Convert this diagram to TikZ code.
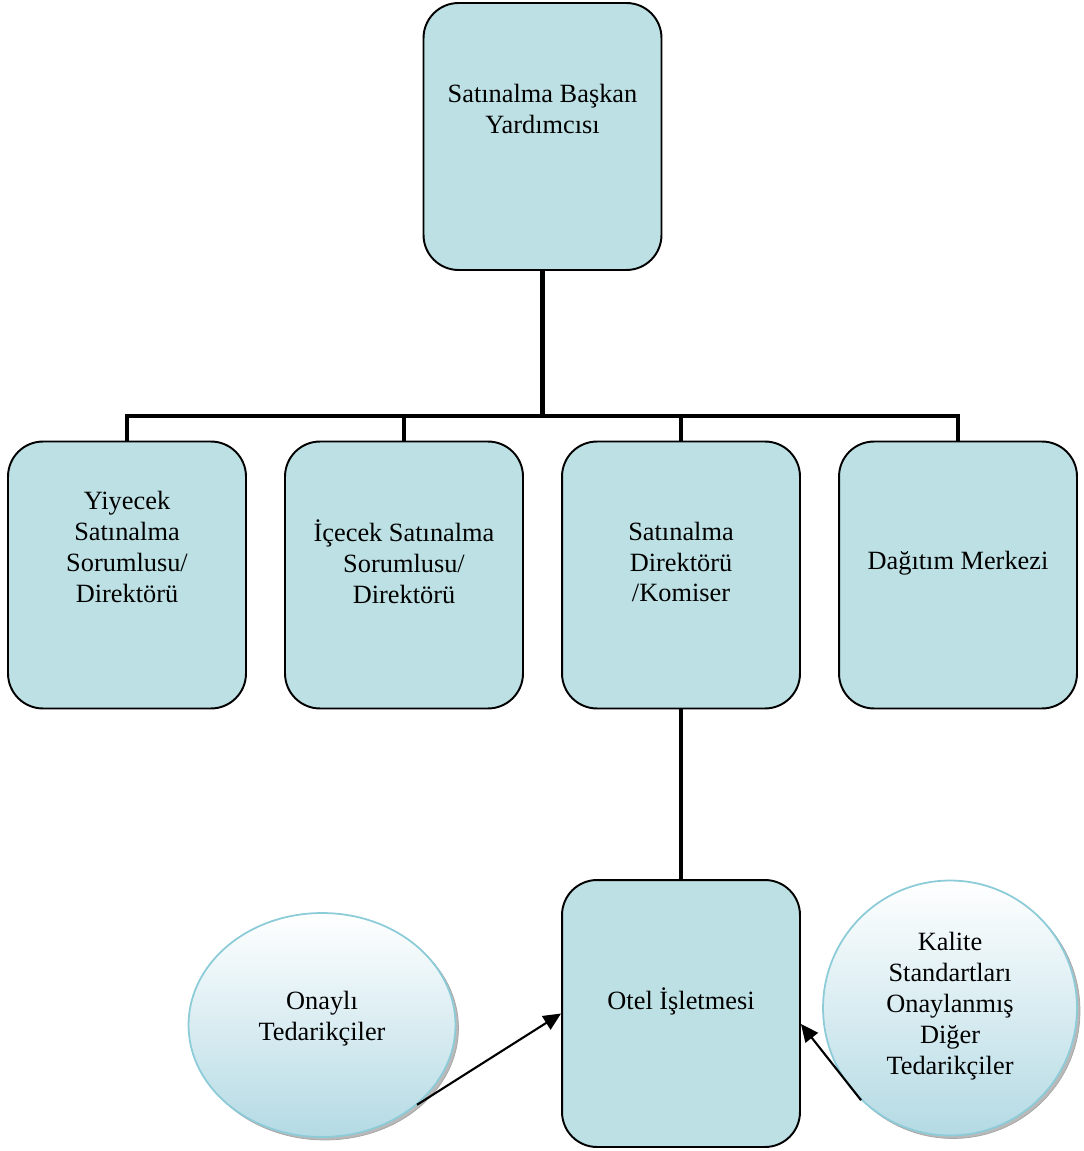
\documentclass[tikz,border=0pt]{standalone}
\usepackage{fontspec}
\setmainfont{Liberation Serif}
\usetikzlibrary{shapes.geometric,arrows.meta}
\definecolor{boxfill}{RGB}{188,224,227}
\definecolor{ellblue}{RGB}{180,218,228}
\definecolor{ellline}{RGB}{140,203,216}
\tikzset{
  x=0.02cm, y=-0.02cm,
  orgbox/.style={draw=black, line width=1.1pt, fill=boxfill, rounded corners=0.7cm,
    minimum width=4.76cm, minimum height=5.34cm, inner sep=0pt},
  label/.style={align=center, font=\fontsize{15}{17.6}\selectfont, inner sep=0pt},
  conn/.style={line width=2.8pt, line join=miter},
  supplier/.style={ellipse, draw=ellline, line width=1pt, top color=white,
    bottom color=ellblue, inner sep=0pt},
  shade/.style={ellipse, fill=gray!55, draw=gray!70, inner sep=0pt},
  feed/.style={line width=1.2pt, -{Triangle[length=10pt,width=9pt]}}
}
\begin{document}
\begin{tikzpicture}
\useasboundingbox (0,0) rectangle (1083,1151);

% hierarchy boxes
\node[orgbox] (top) at (542.5,136.5) {};
\node[orgbox] (b1) at (127,575) {};
\node[orgbox] (b2) at (404,575) {};
\node[orgbox] (b3) at (681,575) {};
\node[orgbox] (b4) at (958,575) {};
\node[orgbox] (otel) at (681,1013.5) {};

% box texts
\node[label] (ttop) at (542.5,109) {Satınalma Başkan\\Yardımcısı};
\node[label] (t1) at (127,547) {Yiyecek\\Satınalma\\Sorumlusu/\\Direktörü};
\node[label] (t2) at (404,562) {İçecek Satınalma\\Sorumlusu/\\Direktörü};
\node[label] (t3) at (681,562) {Satınalma\\Direktörü\\/Komiser};
\node[label] (t4) at (958,563) {Dağıtım Merkezi};
\node[label] (totel) at (681,1001) {Otel İşletmesi};

% tree connectors
\coordinate (bar) at (542.5,416);
\draw[conn] (top.south) -- (bar);
\draw[conn] (b1.north) -- (b1.north |- bar) -- (b4.north |- bar) -- (b4.north);
\draw[conn] (b2.north) -- (b2.north |- bar);
\draw[conn] (b3.north) -- (b3.north |- bar);
\draw[conn] (b3.south) -- (otel.north);

% supplier ellipses with drop shadow
\node[shade, minimum width=5.34cm, minimum height=4.48cm] at (325,1028) {};
\node[supplier, minimum width=5.34cm, minimum height=4.48cm] (onay) at (322,1025) {};
\node[label] (tonay) at (322,1019) {Onaylı\\Tedarikçiler};

\node[shade, minimum width=5.08cm, minimum height=5.1cm] at (953,1011) {};
\node[supplier, minimum width=5.08cm, minimum height=5.1cm] (kal) at (950,1008) {};
\node[label] (tkal) at (950,1006) {Kalite\\Standartları\\Onaylanmış\\Diğer\\Tedarikçiler};

% supply arrows
\draw[feed] (onay.-40) -- (otel.west);
\draw[feed] (kal.-134) -- ([yshift=-6]otel.east);
\end{tikzpicture}
\end{document}
